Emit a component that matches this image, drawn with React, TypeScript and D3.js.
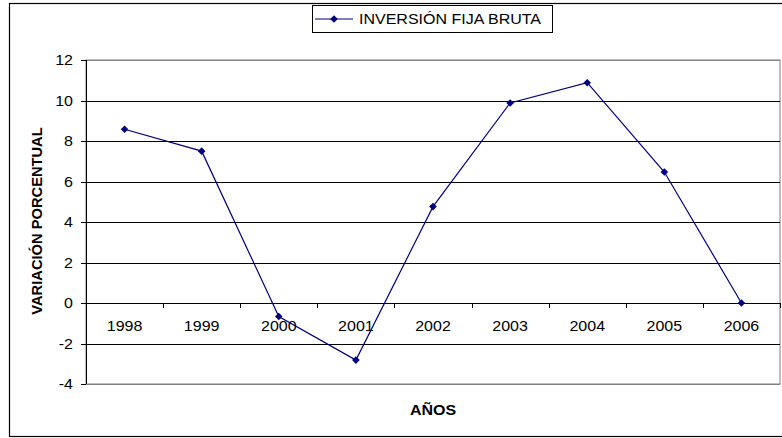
import React from "react";
import * as d3 from "d3";

const years = ["1998", "1999", "2000", "2001", "2002", "2003", "2004", "2005", "2006"];
const values = [8.58, 7.5, -0.67, -2.82, 4.76, 9.88, 10.88, 6.47, 0.0];
const yTicks = [-4, -2, 0, 2, 4, 6, 8, 10, 12];
const seriesName = "INVERSIÓN FIJA BRUTA";
const yTitle = "VARIACIÓN PORCENTUAL";
const xTitle = "AÑOS";

const W = 782;
const H = 438;
const plot = { left: 86, right: 780, top: 60, bottom: 384 };
const NAVY = "#000080";
const FONT = "Liberation Sans, Arial, sans-serif";
const FS = 14.7;
const SX = 1.09;

function Txt({ x, y, anchor = "start", bold = false, children, rotate = 0, sx = SX }: any) {
  const t = rotate ? `translate(${x},${y}) rotate(${rotate}) scale(1,1)` : `translate(${x},${y}) scale(${sx},1)`;
  return (
    <g transform={t}>
      <text x={0} y={0} textAnchor={anchor} fontFamily={FONT} fontSize={FS} fontWeight={bold ? "bold" : "normal"} fill="#000">
        {children}
      </text>
    </g>
  );
}

function Diamond({ cx, cy, r = 3.8 }: any) {
  return <path d={`M${cx},${cy - r}L${cx + r},${cy}L${cx},${cy + r}L${cx - r},${cy}Z`} fill={NAVY} />;
}

export default function App() {
  const x = d3.scaleBand<string>().domain(years).range([plot.left, plot.right]);
  const y = d3.scaleLinear().domain([-4, 12]).range([plot.bottom, plot.top]);
  const line = d3
    .line<number>()
    .x((_, i) => (x(years[i]) as number) + x.bandwidth() / 2)
    .y((d) => y(d));
  const y0 = y(0);
  const boundaries = d3.range(years.length + 1).map((i) => plot.left + i * x.step());

  return (
    <svg width={W} height={H} style={{ position: "absolute", left: 0, top: 0, display: "block" }}>
      <rect x={0} y={0} width={W} height={H} fill="#fff" />
      <rect x={9.5} y={3.5} width={800} height={433} fill="none" stroke="#000" strokeWidth={1.2} />
      {/* plot area */}
      <rect x={plot.left} y={plot.top} width={plot.right - plot.left} height={plot.bottom - plot.top} fill="#fff" stroke="#808080" strokeWidth={1} />
      {yTicks.map((t) => (
        <line key={t} x1={plot.left} x2={plot.right} y1={Math.round(y(t)) + 0.5} y2={Math.round(y(t)) + 0.5} stroke={t === -4 || t === 12 ? "#808080" : "#000"} strokeWidth={1} />
      ))}
      {/* y axis */}
      <line x1={plot.left + 0.5} x2={plot.left + 0.5} y1={plot.top} y2={plot.bottom} stroke="#000" />
      {yTicks.map((t) => (
        <line key={"yt" + t} x1={plot.left - 5} x2={plot.left} y1={Math.round(y(t)) + 0.5} y2={Math.round(y(t)) + 0.5} stroke="#000" />
      ))}
      {yTicks.map((t) => (
        <Txt key={"yl" + t} x={73} y={y(t) + 5.2} anchor="end">
          {String(t)}
        </Txt>
      ))}
      {/* x axis at 0 */}
      <line x1={plot.left} x2={plot.right} y1={Math.round(y0) + 0.5} y2={Math.round(y0) + 0.5} stroke="#000" />
      {boundaries.map((b, i) => (
        <line key={"xt" + i} x1={Math.round(b) + 0.5} x2={Math.round(b) + 0.5} y1={y0} y2={y0 + 5} stroke="#000" />
      ))}
      {years.map((yr) => (
        <Txt key={"xl" + yr} x={(x(yr) as number) + x.bandwidth() / 2} y={331} anchor="middle">
          {yr}
        </Txt>
      ))}
      {/* series */}
      <path d={line(values) as string} fill="none" stroke={NAVY} strokeWidth={1.2} />
      {values.map((v, i) => (
        <Diamond key={"m" + i} cx={(x(years[i]) as number) + x.bandwidth() / 2} cy={y(v)} />
      ))}
      {/* titles */}
      <Txt x={42} y={221} anchor="middle" bold rotate={-90}>
        {yTitle}
      </Txt>
      <Txt x={433} y={415} anchor="middle" bold>
        {xTitle}
      </Txt>
      {/* legend */}
      <rect x={312.5} y={5.5} width={240} height={27} fill="#fff" stroke="#000" strokeWidth={1} />
      <line x1={315} x2={353} y1={19} y2={19} stroke={NAVY} strokeWidth={1.2} />
      <Diamond cx={334} cy={19} />
      <Txt x={359} y={24.3}>
        {seriesName}
      </Txt>
    </svg>
  );
}
